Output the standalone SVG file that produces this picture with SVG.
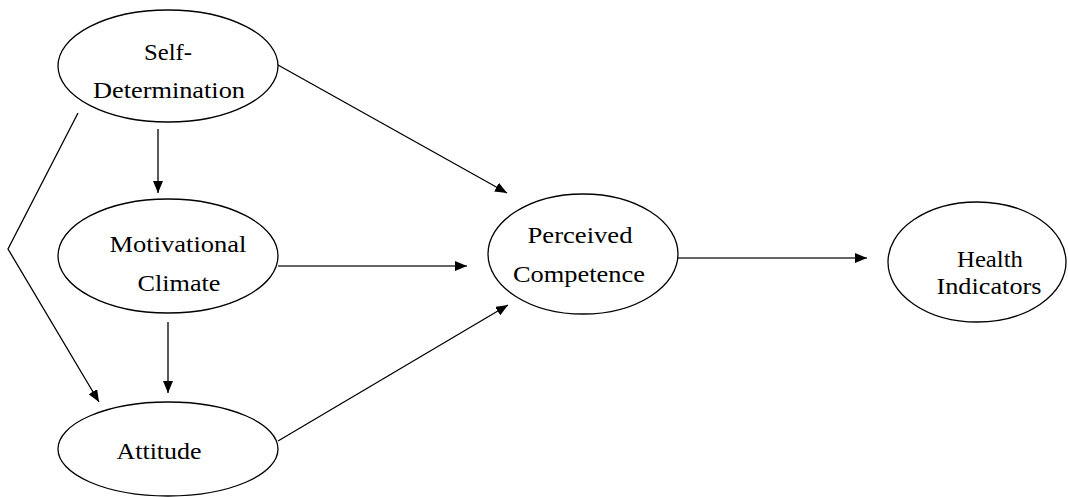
<svg xmlns="http://www.w3.org/2000/svg" width="1068" height="497" viewBox="0 0 1068 497">
<style>
.node{fill:#fff;stroke:#000;stroke-width:1.3}
.lbl{font-family:'Liberation Serif','Times New Roman',serif;font-size:23px;fill:#000;text-anchor:middle}
.edge{stroke:#000;stroke-width:1.3;fill:none}
.edgeh{stroke:#333;stroke-width:1.6;fill:none}
</style>
<defs>
<marker id="arr" markerUnits="userSpaceOnUse" markerWidth="12" markerHeight="10" viewBox="0 0 12 10" refX="12" refY="5" orient="auto">
<path d="M0,0 L12,5 L0,10 Z" fill="#000"/>
</marker>
</defs>
<g id="connectors">
<line class="edge" x1="278" y1="65" x2="507" y2="193" marker-end="url(#arr)"/>
<line class="edge" x1="158" y1="129" x2="158" y2="193" marker-end="url(#arr)"/>
<polyline class="edge" points="78,113 8,249 99,402" marker-end="url(#arr)"/>
<line class="edge" x1="168" y1="322" x2="168" y2="393" marker-end="url(#arr)"/>
<line class="edgeh" x1="278" y1="266" x2="467" y2="266" marker-end="url(#arr)"/>
<line class="edge" x1="278" y1="441" x2="508" y2="305" marker-end="url(#arr)"/>
<line class="edgeh" x1="677" y1="258" x2="867" y2="258" marker-end="url(#arr)"/>
</g>
<g id="self-determination">
<ellipse class="node" cx="168" cy="66" rx="110" ry="56"/>
<text class="lbl" x="168" y="60" textLength="48" lengthAdjust="spacingAndGlyphs">Self-</text>
<text class="lbl" x="169" y="98" textLength="152" lengthAdjust="spacingAndGlyphs">Determination</text>
</g>
<g id="motivational-climate">
<ellipse class="node" cx="168" cy="256" rx="110" ry="57"/>
<text class="lbl" x="178" y="252" textLength="137" lengthAdjust="spacingAndGlyphs">Motivational</text>
<text class="lbl" x="179" y="291" textLength="83" lengthAdjust="spacingAndGlyphs">Climate</text>
</g>
<g id="attitude">
<ellipse class="node" cx="168" cy="449" rx="110" ry="47"/>
<text class="lbl" x="159" y="459" textLength="85" lengthAdjust="spacingAndGlyphs">Attitude</text>
</g>
<g id="perceived-competence">
<ellipse class="node" cx="583" cy="254" rx="95" ry="60"/>
<text class="lbl" x="580" y="243" textLength="105" lengthAdjust="spacingAndGlyphs">Perceived</text>
<text class="lbl" x="579" y="282" textLength="132" lengthAdjust="spacingAndGlyphs">Competence</text>
</g>
<g id="health-indicators">
<ellipse class="node" cx="977" cy="262" rx="89" ry="60"/>
<text class="lbl" x="990" y="267" textLength="66" lengthAdjust="spacingAndGlyphs">Health</text>
<text class="lbl" x="989" y="294" textLength="105" lengthAdjust="spacingAndGlyphs">Indicators</text>
</g>
</svg>
